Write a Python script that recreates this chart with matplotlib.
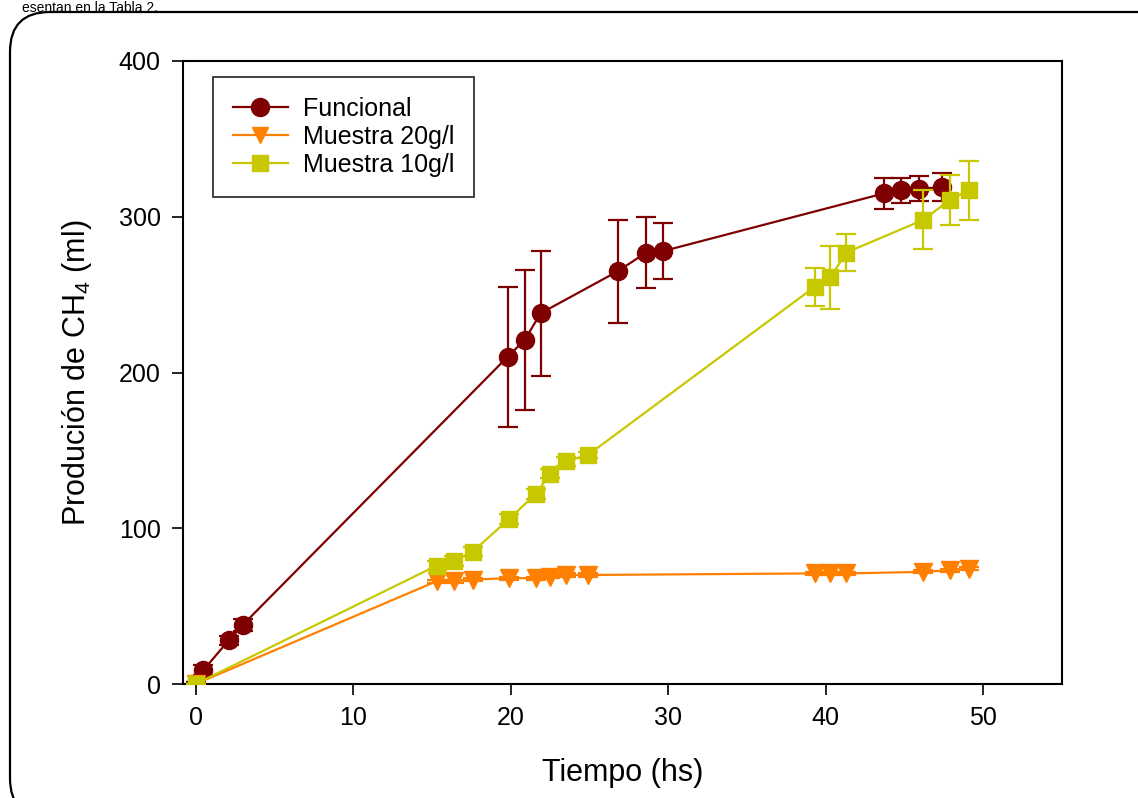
import matplotlib
matplotlib.use("Agg")
import matplotlib.pyplot as plt
from matplotlib.patches import FancyBboxPatch
from matplotlib.lines import Line2D

plt.rcParams['font.family'] = ['Liberation Sans', 'DejaVu Sans']
plt.rcParams['mathtext.fontset'] = 'custom'
plt.rcParams['mathtext.rm'] = 'Liberation Sans'
plt.rcParams['mathtext.default'] = 'regular'

# Funcional
t_func = [0, 0.5, 2.1, 3.0, 19.8, 20.9, 21.9, 26.8, 28.6, 29.7, 43.7, 44.8, 45.9, 47.4]
y_func = [0, 9, 28, 38, 210, 221, 238, 265, 277, 278, 315, 317, 318, 319]
e_func = [1, 3, 3, 4, 45, 45, 40, 33, 23, 18, 10, 8, 8, 9]

# Muestra 20g/l
t_20 = [0, 15.3, 16.4, 17.6, 19.9, 21.6, 22.5, 23.5, 24.9, 39.3, 40.3, 41.3, 46.2, 47.9, 49.1]
y_20 = [0, 66, 66, 67, 68, 68, 69, 70, 70, 71, 71, 71, 72, 73, 74]
e_20 = [0, 1, 1, 1, 1, 1, 1, 1, 1, 1, 1, 1, 1, 1, 1]

# Muestra 10g/l
t_10 = [0, 15.3, 16.4, 17.6, 19.9, 21.6, 22.5, 23.5, 24.9, 39.3, 40.3, 41.3, 46.2, 47.9, 49.1]
y_10 = [0, 76, 79, 85, 106, 122, 135, 143, 147, 255, 261, 277, 298, 311, 317]
e_10 = [0, 3, 3, 3, 3, 3, 3, 3, 2, 12, 20, 12, 19, 16, 19]

labels = ['Funcional', 'Muestra 20g/l', 'Muestra 10g/l']
c_func = '#7f0000'
c_20 = '#ff8000'
c_10 = '#c8c800'

fig = plt.figure(figsize=(11.38, 7.98), dpi=100)
ax = fig.add_axes([183 / 1138, 1 - 684 / 798, (1062 - 183) / 1138, (684 - 61) / 798])

# outer rounded frame (runs off the right/bottom edge) and the caption above it
frame = FancyBboxPatch((10 / 1138, -20 / 798), 1.2, (798 - 12 + 20) / 798,
                       boxstyle='round,pad=0,rounding_size=0.035',
                       transform=fig.transFigure, fill=False, edgecolor='black',
                       linewidth=1.6, mutation_aspect=1138 / 798)
fig.patches.append(frame)
fig.text(22 / 1138, 1 - 0.5 / 798, 'esentan en la Tabla 2.', fontsize=10, va='top', ha='left')

kw = dict(linewidth=1.6, capsize=7, capthick=1.6, elinewidth=1.6)
ax.errorbar(t_func, y_func, yerr=e_func, color=c_func, marker='o', markersize=13, zorder=3, **kw)
ax.errorbar(t_20, y_20, yerr=e_20, color=c_20, marker='v', markersize=13, zorder=4, **kw)
ax.errorbar(t_10, y_10, yerr=e_10, color=c_10, marker='s', markersize=11, zorder=5, **kw)

ax.set_xlim(-0.8, 55)
ax.set_ylim(0, 400)
ax.set_xticks([0, 10, 20, 30, 40, 50])
ax.set_yticks([0, 100, 200, 300, 400])
ax.tick_params(direction='out', length=8, width=1.2, labelsize=18, pad=8)
for s in ax.spines.values():
    s.set_linewidth(1.5)

ax.set_xlabel('Tiempo (hs)', fontsize=22, labelpad=20)
ax.set_ylabel('Produción de CH$_4$ (ml)', fontsize=22, labelpad=18)

handles = [Line2D([], [], color=c_func, marker='o', markersize=13, linewidth=1.6),
           Line2D([], [], color=c_20, marker='v', markersize=12, linewidth=1.6),
           Line2D([], [], color=c_10, marker='s', markersize=11, linewidth=1.6)]
leg = ax.legend(handles, labels, loc='upper left', bbox_to_anchor=(0.034, 0.974),
                borderaxespad=0, fontsize=18, frameon=True, fancybox=False,
                edgecolor='black', handlelength=2.2, borderpad=0.8,
                labelspacing=0.15, handletextpad=0.6)
leg.get_frame().set_linewidth(1.3)

fig.savefig('out.png', dpi=100)
